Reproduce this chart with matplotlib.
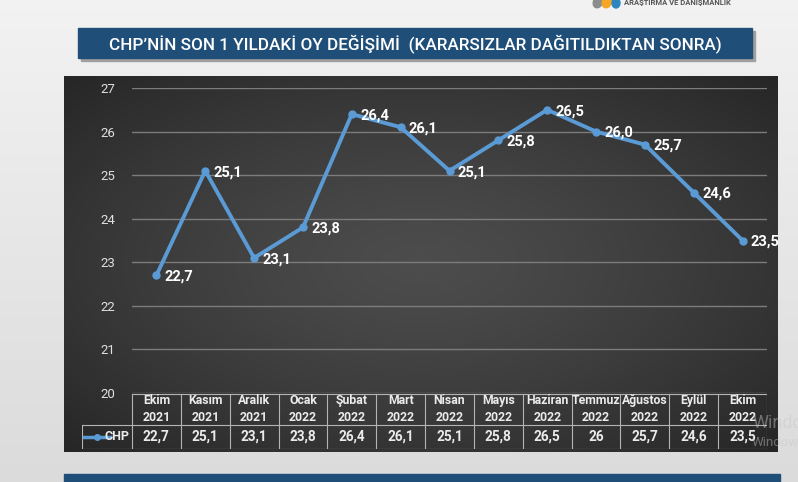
import numpy as np
import matplotlib
matplotlib.use('Agg')
from matplotlib import pyplot as plt
from matplotlib.patches import Rectangle, Ellipse

plt.rcParams['font.family'] = ['Roboto', 'DejaVu Sans']

# data
months = ['Ekim\n2021', 'Kasım\n2021', 'Aralık\n2021', 'Ocak\n2022', 'Şubat\n2022',
          'Mart\n2022', 'Nisan\n2022', 'Mayıs\n2022', 'Haziran\n2022', 'Temmuz\n2022',
          'Ağustos\n2022', 'Eylül\n2022', 'Ekim\n2022']
chp = [22.7, 25.1, 23.1, 23.8, 26.4, 26.1, 25.1, 25.8, 26.5, 26.0, 25.7, 24.6, 23.5]
table_vals = ['22,7', '25,1', '23,1', '23,8', '26,4', '26,1', '25,1', '25,8', '26,5',
              '26', '25,7', '24,6', '23,5']
yticks = [20, 21, 22, 23, 24, 25, 26, 27]
title = 'CHP’NİN SON 1 YILDAKİ OY DEĞİŞİMİ  (KARARSIZLAR DAĞITILDIKTAN SONRA)'

W, H = 798, 482
fig = plt.figure(figsize=(W / 100, H / 100), dpi=100)
fig.patch.set_facecolor('#e4e4e4')


def box(x0, y0, x1, y1):
    # pixel box (top-left origin) -> figure rect
    return [x0 / W, 1 - y1 / H, (x1 - x0) / W, (y1 - y0) / H]


# background axes for decorations
bg = fig.add_axes([0, 0, 1, 1])
bg.set_xlim(0, W)
bg.set_ylim(H, 0)
# light slide background, a bit darker towards the bottom
grad = np.linspace(0.95, 0.86, 100)[:, None] * np.ones((1, 10))
bg.imshow(np.dstack([grad, grad, grad]), aspect='auto', extent=[0, W, H, 0], zorder=0)
bg.set_xlim(0, W)
bg.set_ylim(H, 0)
bg.axis('off')

# title bar with shadow
bg.add_patch(Rectangle((81, 31), 674, 30, color='#a0a0a0', zorder=1))
bg.add_patch(Rectangle((78, 28), 674, 30, color='#1f4e79', zorder=2))
bg.text(415, 43.5, title, color='white', fontsize=12.3, ha='center', va='center',
        fontweight='medium', zorder=3)

# bottom blue bar
bg.add_patch(Rectangle((64, 474), 716, 12, color='#1f4e79', zorder=2))

# logo bits
bg.add_patch(Ellipse((598, 2), 9, 12, angle=25, color='#8c8c8c', zorder=2))
bg.add_patch(Ellipse((607, 2), 9, 12, angle=25, color='#f5a623', zorder=2))
bg.add_patch(Ellipse((616, 3), 8, 10, angle=0, color='#2e86c1', zorder=2))
bg.text(624, 3, 'ARAŞTIRMA VE DANIŞMANLIK', color='#555555', fontsize=5.5,
        fontweight='bold', ha='left', va='center', zorder=3)

# dark panel with radial gradient
panel = fig.add_axes(box(64, 76, 778, 452))
yy, xx = np.mgrid[-1:1:200j, -1:1:300j]
rr = np.clip(np.sqrt(xx ** 2 + yy ** 2) / 1.41, 0, 1)
shade = 0.30 - 0.15 * rr ** 1.3
img = np.dstack([shade, shade, shade])
panel.imshow(img, aspect='auto', extent=[0, 1, 0, 1])
panel.set_xlim(0, 1)
panel.set_ylim(0, 1)
panel.axis('off')

# main chart
ax = fig.add_axes(box(132, 88, 767, 393))
ax.patch.set_alpha(0)
x = np.arange(len(chp))
ax.plot(x, chp, color='#5b9bd5', lw=2.8, marker='o', markersize=5, zorder=3)
for xi, v in zip(x, chp):
    ax.annotate(f'{v:.1f}'.replace('.', ','), (xi, v), xytext=(6, -1),
                textcoords='offset points', color='white', fontsize=10.5,
                fontweight='bold', ha='left', va='center', zorder=4)
ax.set_xlim(-0.5, len(chp) - 0.5)
ax.set_ylim(20, 27)
ax.set_yticks(yticks)
ax.set_xticks([])
ax.grid(axis='y', color='#7c7c7c', lw=1)
ax.set_axisbelow(True)
for s in ax.spines.values():
    s.set_visible(False)
ax.tick_params(axis='y', length=0, colors='#e0e0e0', labelsize=9.5, pad=12)

# data table underneath
tb = fig.add_axes(box(82, 393, 767, 449))
tb.patch.set_alpha(0)
leg_w = 50 / (635 / 13)
tb.set_xlim(-0.5 - leg_w, len(chp) - 0.5)
tb.set_ylim(56, 0)
tb.axis('off')
lc = '#b4b4b4'
tb.plot([-0.5, len(chp) - 0.5], [0.5, 0.5], color=lc, lw=0.8)
tb.plot([-0.5 - leg_w, len(chp) - 0.5], [32, 32], color=lc, lw=0.8)
tb.plot([-0.5 - leg_w, len(chp) - 0.5], [55.5, 55.5], color=lc, lw=0.8)
tb.plot([-0.5 - leg_w] * 2, [32, 55.5], color=lc, lw=0.8)
for i in range(len(chp) + 1):
    tb.plot([i - 0.5] * 2, [0.5, 55.5], color=lc, lw=0.8)
for i, (m, v) in enumerate(zip(months, table_vals)):
    tb.text(i, 16, m, color='#ebebeb', fontsize=8.8, fontweight='bold',
            ha='center', va='center', linespacing=1.35)
    tb.text(i, 44, v, color='#ebebeb', fontsize=9.8, fontweight='bold',
            ha='center', va='center')
tb.plot([-0.5 - leg_w + 0.05, -0.5 - 0.45], [44, 44], color='#5b9bd5', lw=2.5)
tb.plot([-0.5 - leg_w / 2 - 0.2], [44], 'o', color='#5b9bd5', markersize=4)
tb.text(-0.5 - 0.05, 44, 'CHP', color='#ebebeb', fontsize=9, fontweight='bold',
        ha='right', va='center')

# faint screen watermark on top of everything
fig.text(752 / W, 1 - 423 / H, 'Windo', color='#c8c8c8', alpha=0.45, fontsize=13,
         va='center', zorder=10)
fig.text(752 / W, 1 - 442 / H, 'Window', color='#c8c8c8', alpha=0.45, fontsize=9.5,
         va='center', zorder=10)

fig.savefig('out.png', dpi=100, facecolor=fig.get_facecolor())
